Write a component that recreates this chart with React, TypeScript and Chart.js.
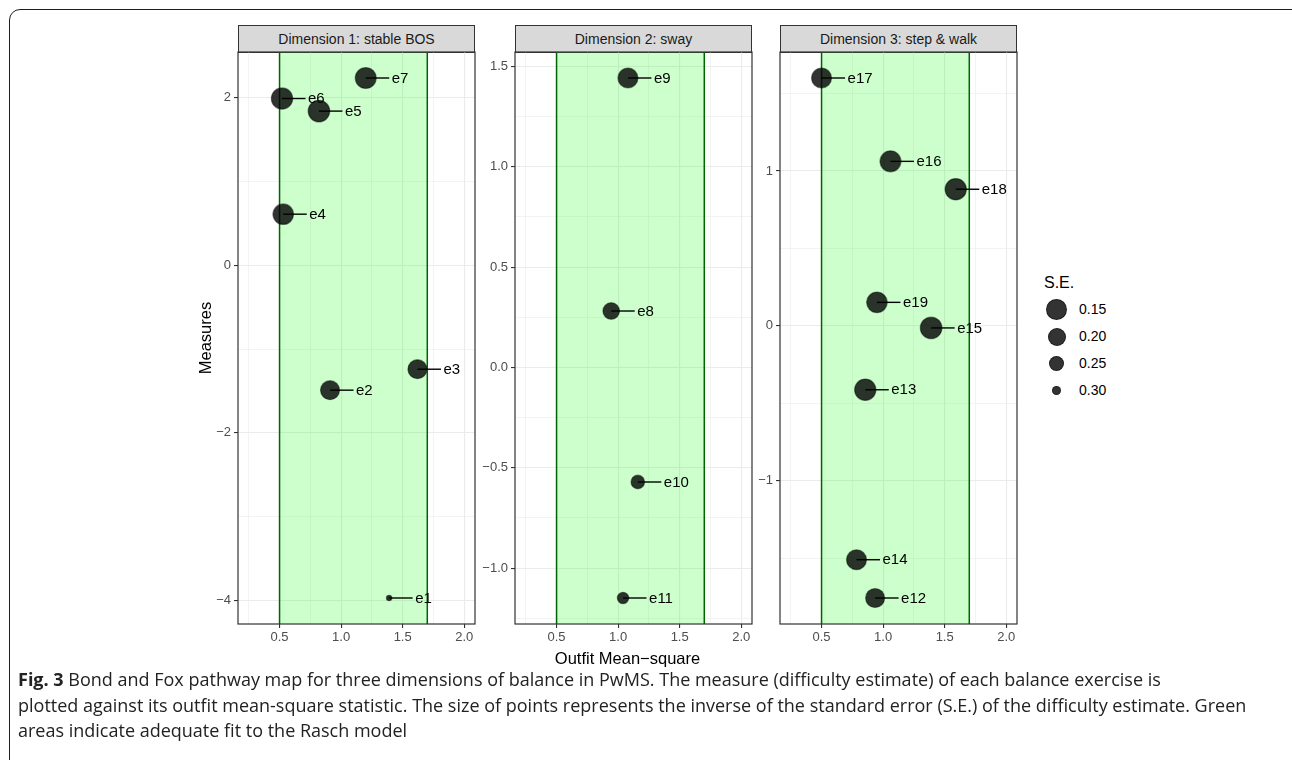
import React, { useEffect, useRef } from 'react';
import { Chart, registerables } from 'chart.js';

Chart.register(...registerables);

// ---------- DATA ----------
const dim1Labels = ['e1', 'e2', 'e3', 'e4', 'e5', 'e6', 'e7'];
const dim1Outfit = [1.39, 0.91, 1.62, 0.53, 0.82, 0.52, 1.2];
const dim1Measure = [-3.97, -1.49, -1.24, 0.61, 1.84, 1.99, 2.235];
const dim1SE = [0.33, 0.183, 0.183, 0.157, 0.14, 0.145, 0.15];

const dim2Labels = ['e8', 'e9', 'e10', 'e11'];
const dim2Outfit = [0.944, 1.08, 1.16, 1.04];
const dim2Measure = [0.281, 1.442, -0.571, -1.149];
const dim2SE = [0.223, 0.167, 0.262, 0.28];

const dim3Labels = ['e12', 'e13', 'e14', 'e15', 'e16', 'e17', 'e18', 'e19'];
const dim3Outfit = [0.935, 0.855, 0.784, 1.39, 1.06, 0.5, 1.59, 0.95];
const dim3Measure = [-1.756, -0.412, -1.509, -0.013, 1.062, 1.6, 0.882, 0.152];
const dim3SE = [0.183, 0.145, 0.167, 0.14, 0.15, 0.167, 0.145, 0.157];

const panelTitles = ['Dimension 1: stable BOS', 'Dimension 2: sway', 'Dimension 3: step & walk'];

const xLimits = [0.25, 2.0];
const xTickValues = [0.5, 1.0, 1.5, 2.0];
const xTickLabels = ['0.5', '1.0', '1.5', '2.0'];
const xMinorTicks = [0.25, 0.75, 1.25, 1.75];

const dim1YTicks = [-4, -2, 0, 2];
const dim1YLabels = ['\u22124', '\u22122', '0', '2'];
const dim1YMinor = [-3, -1, 1];

const dim2YTicks = [-1.0, -0.5, 0.0, 0.5, 1.0, 1.5];
const dim2YLabels = ['\u22121.0', '\u22120.5', '0.0', '0.5', '1.0', '1.5'];
const dim2YMinor = [-1.25, -0.75, -0.25, 0.25, 0.75, 1.25];

const dim3YTicks = [-1, 0, 1];
const dim3YLabels = ['\u22121', '0', '1'];
const dim3YMinor = [-1.5, -0.5, 0.5, 1.5];

const fitLower = 0.5;
const fitUpper = 1.7;

const legendSE = [0.15, 0.2, 0.25, 0.3];
const legendLabels = ['0.15', '0.20', '0.25', '0.30'];

// ---------- STYLE ----------
const legendRadii = [10.5, 9, 7.5, 4.5];
const FONT = '"Liberation Sans", Arial, Helvetica, sans-serif';
const PANEL_LEFTS = [238, 515, 780];
const PANEL_W = 237;
const PANEL_TOP = 52;
const PANEL_H = 572;
const AX_W = 50;
const PAD = 12;
const AX_H = 28;

function seToRadius(se: number): number {
  const n = legendSE.length;
  let i = 0;
  if (se <= legendSE[0]) i = 0;
  else if (se >= legendSE[n - 1]) i = n - 2;
  else {
    while (i < n - 2 && se > legendSE[i + 1]) i++;
  }
  const t = (se - legendSE[i]) / (legendSE[i + 1] - legendSE[i]);
  const r = legendRadii[i] + t * (legendRadii[i + 1] - legendRadii[i]);
  return Math.max(2.5, Math.min(11.5, r));
}

function expand(vals: number[]): [number, number] {
  const lo = Math.min(...vals);
  const hi = Math.max(...vals);
  const d = (hi - lo) * 0.05;
  return [lo - d, hi + d];
}

type PanelProps = {
  labels: string[];
  outfit: number[];
  measure: number[];
  se: number[];
  yTicks: number[];
  yLabels: string[];
  yMinor: number[];
  left: number;
  title: string;
};

function Panel(props: PanelProps) {
  const ref = useRef<HTMLCanvasElement | null>(null);
  useEffect(() => {
    const { labels, outfit, measure, se, yTicks, yLabels, yMinor } = props;
    const [ymin, ymax] = expand(measure);
    const xd = (xLimits[1] - xLimits[0]) * 0.05;

    const bandPlugin = {
      id: 'band',
      beforeDatasetsDraw(chart: any) {
        const { ctx, chartArea, scales } = chart;
        const x0 = scales.x.getPixelForValue(fitLower);
        const x1 = scales.x.getPixelForValue(fitUpper);
        ctx.save();
        ctx.fillStyle = 'rgba(0,255,0,0.2)';
        ctx.fillRect(x0, chartArea.top, x1 - x0, chartArea.bottom - chartArea.top);
        ctx.strokeStyle = '#006400';
        ctx.lineWidth = 1.5;
        [x0, x1].forEach((xx) => {
          ctx.beginPath();
          ctx.moveTo(xx, chartArea.top);
          ctx.lineTo(xx, chartArea.bottom);
          ctx.stroke();
        });
        ctx.restore();
      },
    };

    const labelPlugin = {
      id: 'ptlabels',
      afterDatasetsDraw(chart: any) {
        const { ctx } = chart;
        const meta = chart.getDatasetMeta(0);
        ctx.save();
        ctx.strokeStyle = '#000';
        ctx.lineWidth = 1.4;
        ctx.fillStyle = '#000';
        ctx.font = `15px ${FONT}`;
        ctx.textBaseline = 'middle';
        ctx.textAlign = 'left';
        meta.data.forEach((el: any, i: number) => {
          ctx.beginPath();
          ctx.moveTo(el.x, el.y);
          ctx.lineTo(el.x + 23.5, el.y);
          ctx.stroke();
          ctx.fillText(labels[i], el.x + 26, el.y + 0.5);
        });
        ctx.restore();
      },
    };

    const borderPlugin = {
      id: 'pborder',
      afterDraw(chart: any) {
        const { ctx, chartArea } = chart;
        ctx.save();
        ctx.strokeStyle = '#333333';
        ctx.lineWidth = 1.2;
        ctx.strokeRect(chartArea.left, chartArea.top, chartArea.right - chartArea.left, chartArea.bottom - chartArea.top);
        ctx.restore();
      },
    };

    const isIn = (arr: number[], v: number) => arr.some((a) => Math.abs(a - v) < 1e-9);

    const chart = new Chart(ref.current as HTMLCanvasElement, {
      type: 'scatter',
      data: {
        datasets: [
          {
            data: outfit.map((x, i) => ({ x, y: measure[i] })),
            pointRadius: (c: any) => seToRadius(se[c.dataIndex]),
            pointHoverRadius: (c: any) => seToRadius(se[c.dataIndex]),
            backgroundColor: 'rgba(0,0,0,0.8)',
            borderColor: 'rgba(0,0,0,0.45)',
            borderWidth: 1.2,
            hoverBorderWidth: 1.2,
          } as any,
        ],
      },
      options: {
        animation: false,
        responsive: false,
        events: [],
        layout: { padding: { left: 0, top: PAD, right: PAD, bottom: 0 } },
        plugins: { legend: { display: false }, tooltip: { enabled: false } },
        scales: {
          x: {
            type: 'linear',
            min: xLimits[0] - xd,
            max: xLimits[1] + xd,
            afterBuildTicks: (s: any) => {
              s.ticks = [...xTickValues, ...xMinorTicks].sort((a, b) => a - b).map((v) => ({ value: v }));
            },
            afterFit: (s: any) => {
              s.height = AX_H;
            },
            ticks: {
              autoSkip: false,
              maxRotation: 0,
              padding: 2,
              color: '#4d4d4d',
              font: { family: FONT, size: 13 },
              callback: (v: any) => {
                const idx = xTickValues.findIndex((t) => Math.abs(t - v) < 1e-9);
                return idx >= 0 ? xTickLabels[idx] : '';
              },
            },
            grid: {
              color: '#ebebeb',
              lineWidth: (c: any) => (c.tick && isIn(xTickValues, c.tick.value) ? 1.1 : 0.6),
              tickColor: (c: any) => (c.tick && isIn(xTickValues, c.tick.value) ? '#333333' : 'rgba(0,0,0,0)'),
              tickWidth: 1.1,
              tickLength: 4,
              drawTicks: true,
            },
            border: { display: false },
          },
          y: {
            type: 'linear',
            min: ymin,
            max: ymax,
            afterBuildTicks: (s: any) => {
              s.ticks = [...yTicks, ...yMinor].sort((a, b) => a - b).map((v) => ({ value: v }));
            },
            afterFit: (s: any) => {
              s.width = AX_W;
            },
            ticks: {
              autoSkip: false,
              padding: 3,
              color: '#4d4d4d',
              font: { family: FONT, size: 13 },
              callback: (v: any) => {
                const idx = yTicks.findIndex((t) => Math.abs(t - v) < 1e-9);
                return idx >= 0 ? yLabels[idx] : '';
              },
            },
            grid: {
              color: '#ebebeb',
              lineWidth: (c: any) => (c.tick && isIn(yTicks, c.tick.value) ? 1.1 : 0.6),
              tickColor: (c: any) => (c.tick && isIn(yTicks, c.tick.value) ? '#333333' : 'rgba(0,0,0,0)'),
              tickWidth: 1.1,
              tickLength: 4,
              drawTicks: true,
            },
            border: { display: false },
          },
        },
      } as any,
      plugins: [bandPlugin, labelPlugin, borderPlugin],
    });
    return () => chart.destroy();
  }, []);

  const cw = AX_W + PANEL_W + PAD;
  const ch = PAD + PANEL_H + AX_H;
  return (
    <>
      <div
        style={{
          position: 'absolute',
          left: props.left,
          top: PANEL_TOP - 27,
          width: PANEL_W,
          height: 28,
          boxSizing: 'border-box',
          background: '#d9d9d9',
          border: '1.2px solid #333333',
          color: '#1a1a1a',
          fontFamily: FONT,
          fontSize: 14,
          lineHeight: '26px',
          textAlign: 'center',
        }}
      >
        {props.title}
      </div>
      <canvas
        ref={ref}
        width={cw}
        height={ch}
        style={{ position: 'absolute', left: props.left - AX_W, top: PANEL_TOP - PAD, width: cw, height: ch }}
      />
    </>
  );
}

function Legend() {
  return (
    <div style={{ position: 'absolute', left: 1044, top: 272, fontFamily: FONT }}>
      <div style={{ fontSize: 16, color: '#000', height: 22, lineHeight: '22px' }}>S.E.</div>
      {legendSE.map((se, i) => {
        const r = seToRadius(se);
        return (
          <div key={i} style={{ position: 'absolute', left: 0, top: 24 + i * 27, height: 27, width: 80 }}>
            <div
              style={{
                position: 'absolute',
                left: 12.5 - r,
                top: 13.5 - r,
                width: 2 * r,
                height: 2 * r,
                borderRadius: '50%',
                boxSizing: 'border-box',
                background: 'rgba(0,0,0,0.8)',
                border: '1px solid rgba(0,0,0,0.45)',
              }}
            />
            <div style={{ position: 'absolute', left: 35, top: 0, lineHeight: '27px', fontSize: 14, color: '#000' }}>
              {legendLabels[i]}
            </div>
          </div>
        );
      })}
    </div>
  );
}

export default function App() {
  return (
    <div
      style={{
        position: 'absolute',
        left: 0,
        top: 0,
        width: 1292,
        height: 760,
        overflow: 'hidden',
        background: '#fff',
      }}
    >
      <div
        style={{
          position: 'absolute',
          left: 9,
          top: 9,
          width: 1300,
          height: 820,
          border: '1.5px solid #1e1e1e',
          borderRadius: 11,
        }}
      />
      <Panel labels={dim1Labels} outfit={dim1Outfit} measure={dim1Measure} se={dim1SE} yTicks={dim1YTicks} yLabels={dim1YLabels} yMinor={dim1YMinor} left={PANEL_LEFTS[0]} title={panelTitles[0]} />
      <Panel labels={dim2Labels} outfit={dim2Outfit} measure={dim2Measure} se={dim2SE} yTicks={dim2YTicks} yLabels={dim2YLabels} yMinor={dim2YMinor} left={PANEL_LEFTS[1]} title={panelTitles[1]} />
      <Panel labels={dim3Labels} outfit={dim3Outfit} measure={dim3Measure} se={dim3SE} yTicks={dim3YTicks} yLabels={dim3YLabels} yMinor={dim3YMinor} left={PANEL_LEFTS[2]} title={panelTitles[2]} />
      <div
        style={{
          position: 'absolute',
          left: 205 - 60,
          top: 338 - 11,
          width: 120,
          height: 22,
          lineHeight: '22px',
          textAlign: 'center',
          transform: 'rotate(-90deg)',
          fontFamily: FONT,
          fontSize: 16.5,
          color: '#000',
        }}
      >
        Measures
      </div>
      <div
        style={{
          position: 'absolute',
          left: 627.5 - 120,
          top: 647,
          width: 240,
          height: 22,
          lineHeight: '22px',
          textAlign: 'center',
          fontFamily: FONT,
          fontSize: 16.5,
          color: '#000',
        }}
      >
        Outfit Mean{'\u2212'}square
      </div>
      <Legend />
      <div
        style={{
          position: 'absolute',
          left: 18,
          top: 667,
          fontFamily: '"Open Sans", "Noto Sans", sans-serif',
          fontSize: 18,
          lineHeight: '25.5px',
          color: '#222',
          whiteSpace: 'nowrap',
        }}
      >
        <div>
          <b>Fig. 3</b> Bond and Fox pathway map for three dimensions of balance in PwMS. The measure (difficulty estimate) of each balance exercise is
        </div>
        <div>
          plotted against its outfit mean-square statistic. The size of points represents the inverse of the standard error (S.E.) of the difficulty estimate. Green
        </div>
        <div>areas indicate adequate fit to the Rasch model</div>
      </div>
    </div>
  );
}
